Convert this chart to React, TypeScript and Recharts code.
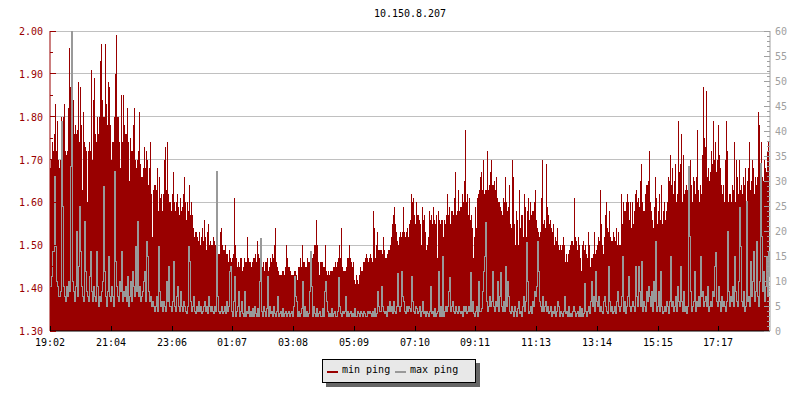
import { ComposedChart, Area, Line, CartesianGrid, Legend, XAxis, YAxis } from "recharts"

const FONT = "'DejaVu Sans Mono', monospace"
const RED = "#990000"
const GRAY = "#999999"

// tick positions are sample numbers, one sample is about 2 minutes
const timeTicks = [0, 61, 122, 182, 243, 304, 365, 425, 486, 547, 608, 668]
const timeLabels = ["19:02", "21:04", "23:06", "01:07", "03:08", "05:09", "07:10", "09:11", "11:13", "13:14", "15:15", "17:17"]
const leftTicks = [1.3, 1.35, 1.4, 1.45, 1.5, 1.55, 1.6, 1.65, 1.7, 1.75, 1.8, 1.85, 1.9, 1.95, 2.0]
const gridValues = [1.4, 1.5, 1.6, 1.7, 1.8, 1.9, 2.0]
const rightTicks = [
  0, 1, 2, 3, 4, 5, 6, 7, 8, 9, 10, 11, 12, 13, 14, 15, 16, 17, 18, 19, 20, 21, 22, 23, 24, 25, 26, 27, 28, 29,
  30, 31, 32, 33, 34, 35, 36, 37, 38, 39, 40, 41, 42, 43, 44, 45, 46, 47, 48, 49, 50, 51, 52, 53, 54, 55, 56, 57, 58, 59, 60,
]

const minPing = [
  1.68,1.70,1.74,1.72,1.76,1.83,1.72,1.79,1.70,1.68,1.70,1.80,1.72,1.80,1.83,1.72,1.71,1.72,1.82,1.96,
  1.87,1.82,1.78,1.84,1.76,1.78,1.76,1.77,1.88,1.74,1.87,1.78,1.63,1.81,1.74,1.73,1.72,1.60,1.72,1.74,
  1.72,1.91,1.70,1.84,1.89,1.76,1.74,1.80,1.76,1.80,1.93,1.97,1.84,1.80,1.80,1.97,1.83,1.78,1.88,1.87,
  1.78,1.70,1.74,1.74,1.80,1.90,1.99,1.80,1.80,1.74,1.68,1.85,1.74,1.85,1.78,1.76,1.76,1.82,1.74,1.65,
  1.75,1.72,1.72,1.78,1.82,1.70,1.68,1.70,1.72,1.81,1.69,1.66,1.66,1.68,1.73,1.68,1.72,1.70,1.64,1.68,
  1.74,1.62,1.52,1.63,1.64,1.64,1.63,1.68,1.58,1.66,1.61,1.62,1.58,1.62,1.70,1.73,1.63,1.74,1.62,1.60,
  1.60,1.58,1.62,1.67,1.60,1.58,1.60,1.62,1.59,1.57,1.61,1.58,1.59,1.62,1.66,1.60,1.56,1.60,1.58,1.64,
  1.57,1.60,1.57,1.54,1.52,1.53,1.53,1.52,1.51,1.53,1.50,1.52,1.54,1.51,1.56,1.52,1.49,1.53,1.55,1.50,
  1.51,1.50,1.50,1.52,1.51,1.50,1.49,1.51,1.48,1.48,1.53,1.54,1.50,1.49,1.49,1.50,1.48,1.48,1.46,1.49,
  1.47,1.46,1.47,1.48,1.61,1.50,1.47,1.45,1.46,1.45,1.47,1.47,1.44,1.45,1.47,1.46,1.46,1.52,1.47,1.46,
  1.46,1.45,1.46,1.47,1.47,1.48,1.46,1.51,1.48,1.47,1.49,1.46,1.45,1.46,1.44,1.46,1.46,1.47,1.44,1.45,
  1.47,1.46,1.48,1.47,1.50,1.54,1.46,1.45,1.44,1.43,1.43,1.43,1.44,1.44,1.43,1.45,1.50,1.47,1.45,1.45,
  1.44,1.43,1.43,1.43,1.44,1.44,1.43,1.42,1.45,1.45,1.47,1.45,1.50,1.46,1.46,1.45,1.45,1.47,1.46,1.46,
  1.47,1.47,1.47,1.48,1.50,1.50,1.56,1.50,1.46,1.43,1.46,1.46,1.46,1.45,1.45,1.50,1.44,1.43,1.44,1.43,
  1.44,1.44,1.44,1.45,1.45,1.46,1.45,1.46,1.47,1.50,1.47,1.54,1.45,1.44,1.44,1.44,1.45,1.47,1.47,1.50,
  1.47,1.46,1.45,1.46,1.42,1.41,1.43,1.42,1.41,1.43,1.45,1.44,1.44,1.46,1.46,1.47,1.48,1.47,1.46,1.47,
  1.48,1.47,1.46,1.58,1.54,1.47,1.50,1.53,1.49,1.49,1.49,1.49,1.48,1.52,1.49,1.47,1.47,1.48,1.49,1.49,
  1.50,1.52,1.55,1.57,1.59,1.55,1.53,1.51,1.50,1.52,1.53,1.52,1.53,1.59,1.53,1.52,1.53,1.54,1.52,1.55,
  1.56,1.62,1.60,1.61,1.57,1.55,1.60,1.57,1.57,1.56,1.55,1.50,1.59,1.56,1.57,1.53,1.49,1.50,1.52,1.58,
  1.56,1.57,1.55,1.59,1.56,1.55,1.57,1.47,1.58,1.56,1.55,1.56,1.56,1.52,1.56,1.55,1.57,1.62,1.57,1.59,
  1.55,1.58,1.58,1.57,1.61,1.67,1.57,1.58,1.63,1.58,1.59,1.59,1.62,1.60,1.65,1.77,1.60,1.62,1.57,1.61,
  1.56,1.57,1.54,1.47,1.52,1.59,1.54,1.61,1.62,1.63,1.66,1.67,1.63,1.70,1.62,1.63,1.63,1.72,1.63,1.64,
  1.67,1.70,1.64,1.64,1.65,1.63,1.66,1.61,1.60,1.60,1.59,1.58,1.57,1.61,1.60,1.66,1.60,1.58,1.59,1.64,
  1.55,1.54,1.70,1.66,1.55,1.50,1.58,1.56,1.50,1.63,1.54,1.57,1.57,1.52,1.62,1.59,1.52,1.58,1.61,1.56,
  1.60,1.57,1.58,1.58,1.60,1.63,1.56,1.54,1.53,1.52,1.53,1.61,1.70,1.55,1.56,1.54,1.69,1.59,1.57,1.55,
  1.56,1.54,1.53,1.55,1.50,1.52,1.51,1.54,1.50,1.49,1.50,1.49,1.50,1.52,1.50,1.46,1.48,1.46,1.48,1.49,
  1.50,1.51,1.51,1.50,1.61,1.52,1.51,1.49,1.52,1.50,1.47,1.44,1.50,1.51,1.49,1.50,1.48,1.47,1.53,1.50,
  1.45,1.47,1.47,1.48,1.53,1.48,1.49,1.50,1.52,1.51,1.63,1.55,1.50,1.48,1.52,1.57,1.60,1.54,1.53,1.58,
  1.52,1.51,1.51,1.53,1.52,1.51,1.54,1.50,1.53,1.50,1.50,1.62,1.55,1.60,1.58,1.58,1.60,1.62,1.60,1.56,
  1.60,1.54,1.60,1.55,1.58,1.62,1.63,1.60,1.61,1.59,1.65,1.69,1.60,1.58,1.58,1.62,1.64,1.64,1.65,1.72,
  1.60,1.58,1.56,1.54,1.59,1.66,1.61,1.55,1.58,1.62,1.56,1.64,1.55,1.58,1.60,1.56,1.58,1.60,1.66,1.65,
  1.71,1.64,1.68,1.62,1.65,1.69,1.60,1.62,1.79,1.67,1.69,1.76,1.60,1.71,1.62,1.63,1.64,1.63,1.68,1.62,
  1.70,1.64,1.60,1.66,1.65,1.62,1.66,1.77,1.63,1.60,1.64,1.62,1.71,1.87,1.75,1.73,1.86,1.66,1.68,1.65,
  1.67,1.72,1.69,1.79,1.70,1.74,1.67,1.70,1.78,1.71,1.68,1.64,1.62,1.64,1.60,1.70,1.79,1.72,1.60,1.62,
  1.62,1.60,1.64,1.63,1.74,1.60,1.70,1.66,1.62,1.70,1.63,1.64,1.62,1.66,1.64,1.68,1.57,1.65,1.68,1.74,
  1.63,1.65,1.70,1.68,1.62,1.66,1.64,1.66,1.81,1.78,1.69,1.74,1.66,1.65,1.70,1.68,1.67,1.72,1.74,1.73,
]

const maxPing = [
  9,11,16,16,31,17,10,9,7,7,8,42,25,9,7,6,9,7,10,8,
  33,60,10,8,6,9,20,7,13,25,16,9,7,6,22,12,8,7,6,11,
  16,8,6,9,7,6,16,9,5,7,6,8,10,29,12,7,5,8,15,7,
  6,9,7,5,32,14,9,7,6,10,8,16,6,8,7,9,6,11,5,7,
  10,6,12,9,7,17,8,22,7,9,6,7,8,10,12,6,18,15,8,6,
  7,5,6,5,4,5,7,4,17,8,5,6,4,6,5,4,10,6,13,5,
  5,4,6,14,5,4,7,9,5,4,8,5,4,6,5,4,3.5,5,17,14,
  6,4,5,7,4,3.5,5,4,6,4,5,3.5,4,5,6,4,5,3.5,7,5,
  4,5,4,3.5,5,4,32,7,4,3.5,4,5,3.5,4,5,3.5,6,4,5,12,
  13,4,3,6,11,3,4,5,8,3,4,6,3.5,3,8,3,4,3.5,5,3,
  4,3,4.5,3,5,3.5,3,4.5,3,10,18.6,4,3,5,4,3,4.5,11,3,5,
  3.5,4,3,5,3.5,3,4,7,3,3.5,4,3,4.5,3,3.5,4,3,3.5,4,3,
  3.5,4,3,5,11,7,6,3,4,3,3.5,4.5,10,3,5,3,4,3,3.5,8,
  16,9,3,5,3.5,3,4.5,3,3.5,4,3,3,4.5,3,8,10,6,4,3,3.5,
  3,4.5,3,3.5,4,3,3,4,10.7,5,3.5,3,4,3.5,4,7,3,4,3,3.5,
  4,3,3.5,3,4.5,3,3,4,3.5,3,4,3.5,3,4,3.5,3,3,4,3.5,4,
  3.5,3,4,3,4.5,3,3.5,8,5,4,4,9,5,4,3.5,4,3,5,4,6,
  4,5,3.5,6,4,3.5,5,11.5,5,4,5,12,7,6,4,3.5,5,4,5,4.5,
  4,11,6,4,3.5,5,4.5,3.5,4,5,3,4,6,3.5,4,3,4,3.5,3,4,
  9,3.5,4,3,4.5,3,3.5,4,12,3,5,3,15,3,4,5,4,5,8,10.7,
  4,5,6,4,3.5,5,4,3.5,5,4,3.5,4,3,5,4,5,3.5,4,5,4,
  11.7,4,6,3.5,3,4,5,3,10,4,4,4.5,8,12,15,21.7,6,4,5,7,
  5,6,12,5,4,6,5,10,4,7,11.7,5,4,6,4,13,5,10,7,4,
  3.5,5,4,3,5,4,3,4.5,6,3.5,4,3,5,7,4,6,17.8,10,3.5,4,
  5,3.5,6,5,8,7,9,18,12,6,5,4,7,4,5,6,4,5,3.5,4,
  5,3,4,3.5,5,3,4,6,5,3,4,3.5,3,4,7,3.5,4,3,5,3,
  3.5,3,4,5,4,3,3.5,4,3,5,3,4.5,3,3.5,9.5,4,3,4,5,3.5,
  6,10,5,7,4,12,6,5,7,4,5,4,3.5,6,7,5,4,3.5,13,6,
  4,5,3.5,4,5,3.5,6,8,5,4,5,7,15,4,6,3.5,5,7,11,5,
  4,5,6,5,4,13,7,5,13,8,5,14,4,6,5,4,8,6,9,7,
  5,8,4,10,6,18,4,5,8,4,12,5,3.5,4,5,4,6,5,3.5,6,
  15,5,6,4,5,7,4,9,6,5,13,6,4,8,4,5,3.5,5,33,19,
  8,4,5,6,12,4,6,5,7,5,15,7,8,5,6,7,5,9,4,5,
  6,5,8,7,13,15.7,6,5,9,6,4,7,5,6,5,4,6,20,8,5,
  7,6,9,5,15,8,6,5,10,24.7,17,6,5,8,4,5,26,6,7,5,
  14,7,10,16,6,8,18,7,5,10,33.6,19,8,12,6,9,15,7,16,11,
]

const data = minPing.map((min, i) => ({ i, min, max: maxPing[i] }))

const LeftTick = ({ x, y, payload }: any) => {
  const major = Math.round(payload.value * 100) % 10 === 0
  return (
    <g>
      <line x1={x} x2={x + (major ? 6 : 3)} y1={y} y2={y} stroke={RED} shapeRendering="crispEdges" />
      {major && (
        <text x={x - 7} y={y + 4} textAnchor="end" fill={RED} fontFamily={FONT} fontSize={10}>
          {payload.value.toFixed(2)}
        </text>
      )}
    </g>
  )
}

const RightTick = ({ x, y, payload }: any) => {
  const major = payload.value % 5 === 0
  return (
    <g>
      <line x1={x} x2={x - (major ? 6 : 3)} y1={y} y2={y} stroke="#a0a0a0" shapeRendering="crispEdges" />
      {major && (
        <text x={x + 5} y={y + 4} fill="#a0a0a0" fontFamily={FONT} fontSize={10}>
          {payload.value}
        </text>
      )}
    </g>
  )
}

const TimeTick = ({ x, y, payload }: any) => (
  <g>
    <line x1={x} x2={x} y1={y} y2={y - 5} stroke="#000" shapeRendering="crispEdges" />
    <text x={x} y={y + 15} textAnchor="middle" fill="#000" fontFamily={FONT} fontSize={10}>
      {timeLabels[timeTicks.indexOf(payload.value)]}
    </text>
  </g>
)

const PingLegend = ({ payload }: any) => (
  <div
    style={{
      position: "relative",
      boxSizing: "border-box",
      width: 154,
      height: 24,
      background: "#e8e8e8",
      border: "1px solid #000",
      boxShadow: "4px 4px 0 #666",
      fontFamily: FONT,
      fontSize: 10,
      color: "#000",
    }}
  >
    {(payload || []).map((entry: any, idx: number) => (
      <span key={entry.value}>
        <span
          style={{ position: "absolute", left: 4 + idx * 68, top: 11, width: 11, height: 2, background: entry.color }}
        />
        <span style={{ position: "absolute", left: 19 + idx * 68, top: 4, lineHeight: "12px", whiteSpace: "pre" }}>
          {entry.value}
        </span>
      </span>
    ))}
  </div>
)

export default function App() {
  return (
    <div style={{ position: "absolute", left: 0, top: 0, width: 800, height: 400, background: "#fff" }}>
      <ComposedChart width={800} height={400} data={data} margin={{ top: 31, right: 0, bottom: 0, left: 0 }}>
        <text x={410} y={17} textAnchor="middle" fill="#000" fontFamily={FONT} fontSize={10}>
          10.150.8.207
        </text>
        <CartesianGrid
          yAxisId="left"
          vertical={false}
          horizontalValues={gridValues}
          stroke="#c0c0c0"
          shapeRendering="crispEdges"
        />
        <Area
          yAxisId="left"
          type="stepAfter"
          dataKey="min"
          name="min ping"
          stroke="none"
          fill={RED}
          fillOpacity={1}
          shapeRendering="crispEdges"
          isAnimationActive={false}
        />
        <Line
          yAxisId="right"
          type="stepAfter"
          dataKey="max"
          name="max ping"
          stroke={GRAY}
          strokeWidth={1}
          dot={false}
          shapeRendering="crispEdges"
          isAnimationActive={false}
        />
        <XAxis
          dataKey="i"
          type="number"
          domain={[0, 720]}
          ticks={timeTicks}
          interval={0}
          height={69}
          stroke="#000"
          tickLine={false}
          tickSize={0}
          tickMargin={0}
          tick={TimeTick}
        />
        <YAxis
          yAxisId="left"
          orientation="left"
          width={50}
          domain={[1.3, 2]}
          ticks={leftTicks}
          interval={0}
          stroke={RED}
          tickLine={false}
          tickSize={0}
          tickMargin={0}
          tick={LeftTick}
        />
        <YAxis
          yAxisId="right"
          orientation="right"
          width={30}
          domain={[0, 60]}
          ticks={rightTicks}
          interval={0}
          stroke="#a0a0a0"
          tickLine={false}
          tickSize={0}
          tickMargin={0}
          tick={RightTick}
        />
        <Legend
          layout="vertical"
          align="center"
          verticalAlign="middle"
          itemSorter={null}
          content={PingLegend}
          wrapperStyle={{ position: "absolute", left: 322, top: 359, width: 158, height: 28 }}
        />
      </ComposedChart>
    </div>
  )
}
